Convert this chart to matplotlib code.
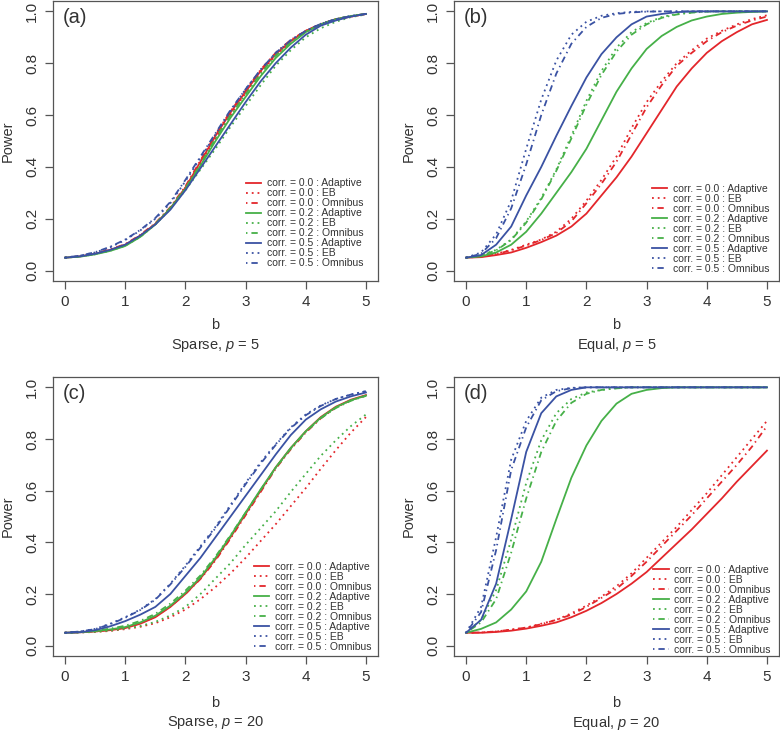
import numpy as np
import matplotlib
matplotlib.use("Agg")
import matplotlib.pyplot as plt

plt.rcParams['font.family'] = ['Liberation Sans', 'DejaVu Sans']
plt.rcParams['mathtext.fontset'] = 'custom'
plt.rcParams['mathtext.rm'] = 'Liberation Sans'
plt.rcParams['mathtext.it'] = 'Liberation Sans:italic'

# b grid
b = [0, 0.25, 0.5, 0.75, 1.0, 1.25, 1.5, 1.75, 2.0, 2.25, 2.5,
     2.75, 3.0, 3.25, 3.5, 3.75, 4.0, 4.25, 4.5, 4.75, 5.0]

methods = ["Adaptive", "EB", "Omnibus"]
corrs = ["0.0", "0.2", "0.5"]

# (a) Sparse, p = 5
a_r_ad = [0.05, 0.055, 0.065, 0.08, 0.10, 0.135, 0.18, 0.24, 0.32, 0.42, 0.52, 0.61, 0.69, 0.77, 0.835, 0.885, 0.925, 0.95, 0.97, 0.98, 0.99]
a_r_eb = [0.05, 0.055, 0.065, 0.08, 0.10, 0.135, 0.18, 0.24, 0.32, 0.415, 0.51, 0.60, 0.685, 0.765, 0.83, 0.88, 0.92, 0.95, 0.97, 0.98, 0.99]
a_r_om = [0.05, 0.055, 0.066, 0.082, 0.102, 0.138, 0.183, 0.245, 0.325, 0.425, 0.525, 0.615, 0.695, 0.775, 0.84, 0.89, 0.925, 0.952, 0.97, 0.982, 0.99]
a_g_ad = [0.05, 0.054, 0.063, 0.076, 0.095, 0.13, 0.178, 0.24, 0.315, 0.405, 0.50, 0.59, 0.67, 0.75, 0.82, 0.875, 0.92, 0.95, 0.97, 0.982, 0.99]
a_g_eb = [0.05, 0.054, 0.063, 0.077, 0.096, 0.13, 0.178, 0.238, 0.31, 0.39, 0.47, 0.555, 0.635, 0.715, 0.79, 0.85, 0.90, 0.935, 0.96, 0.978, 0.988]
a_g_om = [0.05, 0.055, 0.064, 0.078, 0.098, 0.133, 0.18, 0.242, 0.318, 0.41, 0.51, 0.60, 0.68, 0.76, 0.83, 0.88, 0.922, 0.95, 0.97, 0.982, 0.99]
a_b_ad = [0.05, 0.055, 0.065, 0.08, 0.10, 0.135, 0.178, 0.235, 0.31, 0.395, 0.48, 0.565, 0.65, 0.73, 0.80, 0.86, 0.91, 0.945, 0.965, 0.98, 0.99]
a_b_eb = [0.05, 0.058, 0.07, 0.09, 0.118, 0.155, 0.20, 0.26, 0.345, 0.435, 0.525, 0.615, 0.70, 0.775, 0.84, 0.89, 0.925, 0.952, 0.97, 0.982, 0.99]
a_b_om = [0.05, 0.058, 0.071, 0.092, 0.12, 0.157, 0.203, 0.265, 0.35, 0.44, 0.53, 0.62, 0.70, 0.775, 0.84, 0.888, 0.925, 0.952, 0.97, 0.982, 0.99]

# (b) Equal, p = 5
b_r_ad = [0.05, 0.052, 0.06, 0.07, 0.088, 0.11, 0.135, 0.17, 0.22, 0.29, 0.36, 0.44, 0.53, 0.62, 0.71, 0.78, 0.84, 0.885, 0.92, 0.95, 0.967]
b_r_eb = [0.05, 0.055, 0.065, 0.08, 0.10, 0.12, 0.15, 0.20, 0.27, 0.35, 0.44, 0.55, 0.65, 0.73, 0.80, 0.85, 0.895, 0.925, 0.95, 0.97, 0.985]
b_r_om = [0.05, 0.054, 0.064, 0.078, 0.097, 0.118, 0.145, 0.19, 0.26, 0.335, 0.42, 0.525, 0.63, 0.715, 0.79, 0.84, 0.885, 0.92, 0.945, 0.965, 0.98]
b_g_ad = [0.05, 0.055, 0.07, 0.10, 0.15, 0.22, 0.30, 0.38, 0.47, 0.58, 0.69, 0.78, 0.855, 0.905, 0.94, 0.965, 0.98, 0.99, 0.995, 0.998, 1.0]
b_g_eb = [0.05, 0.06, 0.08, 0.12, 0.19, 0.28, 0.39, 0.52, 0.655, 0.77, 0.86, 0.92, 0.955, 0.978, 0.99, 0.996, 1.0, 1.0, 1.0, 1.0, 1.0]
b_g_om = [0.05, 0.058, 0.078, 0.118, 0.185, 0.275, 0.385, 0.51, 0.64, 0.755, 0.845, 0.91, 0.95, 0.975, 0.988, 0.995, 0.999, 1.0, 1.0, 1.0, 1.0]
b_b_ad = [0.05, 0.06, 0.10, 0.17, 0.29, 0.40, 0.52, 0.635, 0.745, 0.835, 0.90, 0.95, 0.98, 0.99, 0.997, 1.0, 1.0, 1.0, 1.0, 1.0, 1.0]
b_b_eb = [0.05, 0.07, 0.14, 0.27, 0.47, 0.66, 0.81, 0.91, 0.96, 0.983, 0.993, 0.998, 1.0, 1.0, 1.0, 1.0, 1.0, 1.0, 1.0, 1.0, 1.0]
b_b_om = [0.05, 0.065, 0.125, 0.24, 0.41, 0.60, 0.76, 0.875, 0.94, 0.975, 0.99, 0.996, 0.999, 1.0, 1.0, 1.0, 1.0, 1.0, 1.0, 1.0, 1.0]

# (c) Sparse, p = 20
c_r_ad = [0.05, 0.052, 0.055, 0.06, 0.068, 0.085, 0.11, 0.15, 0.20, 0.26, 0.335, 0.42, 0.51, 0.60, 0.69, 0.765, 0.83, 0.885, 0.925, 0.952, 0.97]
c_r_eb = [0.05, 0.051, 0.053, 0.057, 0.064, 0.073, 0.087, 0.11, 0.14, 0.18, 0.227, 0.28, 0.34, 0.405, 0.47, 0.54, 0.61, 0.685, 0.757, 0.825, 0.885]
c_r_om = [0.05, 0.052, 0.055, 0.061, 0.07, 0.087, 0.112, 0.152, 0.20, 0.258, 0.33, 0.415, 0.505, 0.595, 0.685, 0.76, 0.825, 0.88, 0.922, 0.95, 0.968]
c_g_ad = [0.05, 0.052, 0.056, 0.063, 0.072, 0.09, 0.116, 0.155, 0.205, 0.265, 0.34, 0.425, 0.515, 0.605, 0.69, 0.765, 0.83, 0.883, 0.923, 0.95, 0.968]
c_g_eb = [0.05, 0.051, 0.054, 0.058, 0.066, 0.076, 0.092, 0.117, 0.15, 0.20, 0.26, 0.32, 0.39, 0.455, 0.52, 0.595, 0.665, 0.735, 0.795, 0.85, 0.895]
c_g_om = [0.05, 0.053, 0.058, 0.066, 0.077, 0.096, 0.123, 0.163, 0.213, 0.272, 0.345, 0.428, 0.515, 0.603, 0.688, 0.763, 0.828, 0.88, 0.92, 0.948, 0.967]
c_b_ad = [0.05, 0.052, 0.06, 0.075, 0.095, 0.12, 0.15, 0.20, 0.27, 0.34, 0.42, 0.50, 0.58, 0.66, 0.74, 0.815, 0.875, 0.915, 0.945, 0.965, 0.98]
c_b_eb = [0.05, 0.055, 0.065, 0.085, 0.11, 0.14, 0.18, 0.24, 0.31, 0.385, 0.46, 0.545, 0.63, 0.71, 0.78, 0.845, 0.895, 0.93, 0.955, 0.972, 0.985]
c_b_om = [0.05, 0.055, 0.064, 0.083, 0.108, 0.138, 0.178, 0.237, 0.305, 0.38, 0.455, 0.54, 0.625, 0.705, 0.777, 0.842, 0.892, 0.928, 0.955, 0.972, 0.985]

# (d) Equal, p = 20
d_r_ad = [0.05, 0.05, 0.053, 0.058, 0.066, 0.077, 0.09, 0.11, 0.135, 0.165, 0.20, 0.24, 0.285, 0.34, 0.395, 0.45, 0.51, 0.57, 0.635, 0.695, 0.755]
d_r_eb = [0.05, 0.051, 0.055, 0.062, 0.07, 0.085, 0.10, 0.125, 0.155, 0.19, 0.23, 0.28, 0.34, 0.40, 0.46, 0.525, 0.59, 0.66, 0.73, 0.80, 0.87]
d_r_om = [0.05, 0.051, 0.055, 0.062, 0.07, 0.083, 0.10, 0.12, 0.15, 0.185, 0.22, 0.27, 0.325, 0.385, 0.445, 0.505, 0.57, 0.635, 0.70, 0.77, 0.85]
d_g_ad = [0.05, 0.065, 0.09, 0.14, 0.21, 0.325, 0.49, 0.65, 0.775, 0.87, 0.937, 0.975, 0.99, 0.997, 1.0, 1.0, 1.0, 1.0, 1.0, 1.0, 1.0]
d_g_eb = [0.05, 0.10, 0.215, 0.41, 0.63, 0.795, 0.90, 0.955, 0.98, 0.99, 0.997, 1.0, 1.0, 1.0, 1.0, 1.0, 1.0, 1.0, 1.0, 1.0, 1.0]
d_g_om = [0.05, 0.09, 0.18, 0.36, 0.57, 0.75, 0.87, 0.94, 0.975, 0.99, 0.996, 1.0, 1.0, 1.0, 1.0, 1.0, 1.0, 1.0, 1.0, 1.0, 1.0]
d_b_ad = [0.05, 0.10, 0.24, 0.49, 0.75, 0.90, 0.965, 0.99, 1.0, 1.0, 1.0, 1.0, 1.0, 1.0, 1.0, 1.0, 1.0, 1.0, 1.0, 1.0, 1.0]
d_b_eb = [0.05, 0.15, 0.42, 0.72, 0.87, 0.96, 0.99, 0.998, 1.0, 1.0, 1.0, 1.0, 1.0, 1.0, 1.0, 1.0, 1.0, 1.0, 1.0, 1.0, 1.0]
d_b_om = [0.05, 0.13, 0.37, 0.68, 0.845, 0.95, 0.985, 0.997, 1.0, 1.0, 1.0, 1.0, 1.0, 1.0, 1.0, 1.0, 1.0, 1.0, 1.0, 1.0, 1.0]

panels = [
    ("(a)", "Sparse, $p$ = 5", [a_r_ad, a_r_eb, a_r_om, a_g_ad, a_g_eb, a_g_om, a_b_ad, a_b_eb, a_b_om]),
    ("(b)", "Equal, $p$ = 5", [b_r_ad, b_r_eb, b_r_om, b_g_ad, b_g_eb, b_g_om, b_b_ad, b_b_eb, b_b_om]),
    ("(c)", "Sparse, $p$ = 20", [c_r_ad, c_r_eb, c_r_om, c_g_ad, c_g_eb, c_g_om, c_b_ad, c_b_eb, c_b_om]),
    ("(d)", "Equal, $p$ = 20", [d_r_ad, d_r_eb, d_r_om, d_g_ad, d_g_eb, d_g_om, d_b_ad, d_b_eb, d_b_om]),
]

colors = ['#e3262b', '#46b048', '#3a52a3']
styles = ['-', (0, (1, 2.2)), (0, (0.8, 2.2, 3.5, 2.2))]

# axes rects in pixels: left, top, right, bottom
W, H = 780, 731
rects = [(53, 1, 378, 281), (454, 1, 779, 281), (53, 377, 378, 656), (454, 377, 779, 656)]
leg_anchor = [(0.955, 0.045), (0.97, 0.025), (0.98, 0.015), (0.975, 0.005)]
lab_off = [(-0.157, -0.229), (-0.157, -0.229), (-0.168, -0.240), (-0.168, -0.240)]

fig = plt.figure(figsize=(W / 100, H / 100), dpi=100)
ink = '#333333'

for k, (tag, sub, series) in enumerate(panels):
    l, t, r, btm = rects[k]
    ax = fig.add_axes([l / W, 1 - btm / H, (r - l) / W, (btm - t) / H])
    for i, ys in enumerate(series):
        c = colors[i // 3]
        ls = styles[i % 3]
        ax.plot(b, ys, color=c, linestyle=ls, lw=1.3,
                label="corr. = %s : %s" % (corrs[i // 3], methods[i % 3]))
    ax.set_xlim(-0.2, 5.2)
    ax.set_ylim(-0.04, 1.04)
    ax.set_xticks([0, 1, 2, 3, 4, 5])
    ax.set_yticks([0.0, 0.2, 0.4, 0.6, 0.8, 1.0])
    ax.set_yticklabels(["0.0", "0.2", "0.4", "0.6", "0.8", "1.0"], rotation=90, va='center')
    ax.tick_params(length=6, width=0.9, color='#555555', labelsize=11, labelcolor=ink, pad=4)
    for s in ax.spines.values():
        s.set_color('#555555')
        s.set_linewidth(0.9)
    ax.text(0.03, 0.94, tag, transform=ax.transAxes, fontsize=14.5, color=ink, ha='left', va='center')
    ax.text(0.5, lab_off[k][0], "b", transform=ax.transAxes, fontsize=10.5, color=ink, ha='center', va='center')
    ax.text(0.5, lab_off[k][1], sub, transform=ax.transAxes, fontsize=10.5, color=ink, ha='center', va='center')
    ax.text(-45 / 325, 0.5, "Power", transform=ax.transAxes, fontsize=10.5, color=ink,
            rotation=90, ha='center', va='center')
    leg = ax.legend(loc='lower right', bbox_to_anchor=leg_anchor[k], frameon=False,
                    fontsize=7.5, labelspacing=0.0, handlelength=1.45, handletextpad=0.55,
                    borderpad=0, borderaxespad=0)
    for txt in leg.get_texts():
        txt.set_color(ink)

fig.savefig("out.png", dpi=100)
